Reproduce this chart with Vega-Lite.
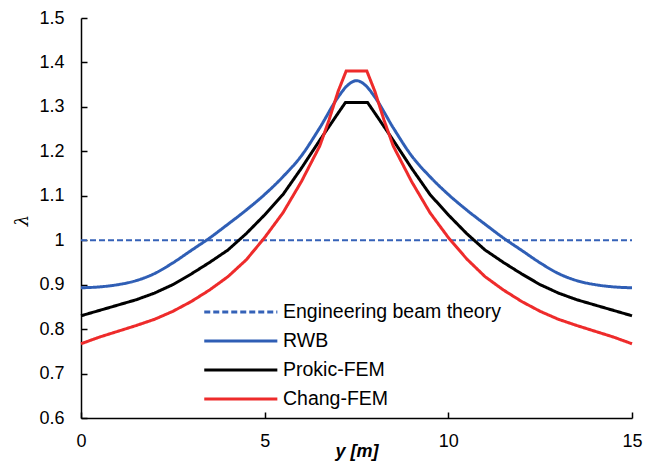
{
  "$schema": "https://vega.github.io/schema/vega-lite/v6.json",
  "width": 551,
  "height": 400,
  "autosize": {"type": "none"},
  "padding": {"left": 81, "top": 18, "right": 24, "bottom": 45},
  "background": "white",
  "config": {
    "view": {"stroke": null},
    "font": "Liberation Sans",
    "axis": {
      "grid": false,
      "labelFlush": false,
      "domainColor": "#000000",
      "domainWidth": 1.5,
      "tickColor": "#000000",
      "tickWidth": 1.5,
      "labelFont": "Liberation Sans",
      "labelFontSize": 18,
      "labelColor": "#000000",
      "titleColor": "#000000"
    }
  },
  "data": {
    "values": [
      {"y": 0, "lambda": 1.0, "series": "Engineering beam theory"},
      {"y": 15, "lambda": 1.0, "series": "Engineering beam theory"},

      {"y": 0, "lambda": 0.893, "series": "RWB"},
      {"y": 0.5, "lambda": 0.895, "series": "RWB"},
      {"y": 1, "lambda": 0.9, "series": "RWB"},
      {"y": 1.5, "lambda": 0.909, "series": "RWB"},
      {"y": 2, "lambda": 0.925, "series": "RWB"},
      {"y": 2.5, "lambda": 0.949, "series": "RWB"},
      {"y": 3, "lambda": 0.977, "series": "RWB"},
      {"y": 3.5, "lambda": 1.005, "series": "RWB"},
      {"y": 4, "lambda": 1.036, "series": "RWB"},
      {"y": 4.5, "lambda": 1.068, "series": "RWB"},
      {"y": 5, "lambda": 1.103, "series": "RWB"},
      {"y": 5.5, "lambda": 1.143, "series": "RWB"},
      {"y": 6, "lambda": 1.19, "series": "RWB"},
      {"y": 6.5, "lambda": 1.253, "series": "RWB"},
      {"y": 7, "lambda": 1.322, "series": "RWB"},
      {"y": 7.25, "lambda": 1.348, "series": "RWB"},
      {"y": 7.5, "lambda": 1.359, "series": "RWB"},
      {"y": 7.75, "lambda": 1.348, "series": "RWB"},
      {"y": 8, "lambda": 1.322, "series": "RWB"},
      {"y": 8.5, "lambda": 1.253, "series": "RWB"},
      {"y": 9, "lambda": 1.19, "series": "RWB"},
      {"y": 9.5, "lambda": 1.143, "series": "RWB"},
      {"y": 10, "lambda": 1.103, "series": "RWB"},
      {"y": 10.5, "lambda": 1.068, "series": "RWB"},
      {"y": 11, "lambda": 1.036, "series": "RWB"},
      {"y": 11.5, "lambda": 1.005, "series": "RWB"},
      {"y": 12, "lambda": 0.977, "series": "RWB"},
      {"y": 12.5, "lambda": 0.949, "series": "RWB"},
      {"y": 13, "lambda": 0.925, "series": "RWB"},
      {"y": 13.5, "lambda": 0.909, "series": "RWB"},
      {"y": 14, "lambda": 0.9, "series": "RWB"},
      {"y": 14.5, "lambda": 0.895, "series": "RWB"},
      {"y": 15, "lambda": 0.893, "series": "RWB"},

      {"y": 0, "lambda": 0.83, "series": "Prokic-FEM"},
      {"y": 0.5, "lambda": 0.842, "series": "Prokic-FEM"},
      {"y": 1, "lambda": 0.854, "series": "Prokic-FEM"},
      {"y": 1.5, "lambda": 0.866, "series": "Prokic-FEM"},
      {"y": 2, "lambda": 0.881, "series": "Prokic-FEM"},
      {"y": 2.5, "lambda": 0.9, "series": "Prokic-FEM"},
      {"y": 3, "lambda": 0.924, "series": "Prokic-FEM"},
      {"y": 3.5, "lambda": 0.95, "series": "Prokic-FEM"},
      {"y": 4, "lambda": 0.978, "series": "Prokic-FEM"},
      {"y": 4.5, "lambda": 1.015, "series": "Prokic-FEM"},
      {"y": 5, "lambda": 1.057, "series": "Prokic-FEM"},
      {"y": 5.5, "lambda": 1.103, "series": "Prokic-FEM"},
      {"y": 6, "lambda": 1.162, "series": "Prokic-FEM"},
      {"y": 6.5, "lambda": 1.225, "series": "Prokic-FEM"},
      {"y": 7, "lambda": 1.286, "series": "Prokic-FEM"},
      {"y": 7.2, "lambda": 1.31, "series": "Prokic-FEM"},
      {"y": 7.8, "lambda": 1.31, "series": "Prokic-FEM"},
      {"y": 8, "lambda": 1.286, "series": "Prokic-FEM"},
      {"y": 8.5, "lambda": 1.225, "series": "Prokic-FEM"},
      {"y": 9, "lambda": 1.162, "series": "Prokic-FEM"},
      {"y": 9.5, "lambda": 1.103, "series": "Prokic-FEM"},
      {"y": 10, "lambda": 1.057, "series": "Prokic-FEM"},
      {"y": 10.5, "lambda": 1.015, "series": "Prokic-FEM"},
      {"y": 11, "lambda": 0.978, "series": "Prokic-FEM"},
      {"y": 11.5, "lambda": 0.95, "series": "Prokic-FEM"},
      {"y": 12, "lambda": 0.924, "series": "Prokic-FEM"},
      {"y": 12.5, "lambda": 0.9, "series": "Prokic-FEM"},
      {"y": 13, "lambda": 0.881, "series": "Prokic-FEM"},
      {"y": 13.5, "lambda": 0.866, "series": "Prokic-FEM"},
      {"y": 14, "lambda": 0.854, "series": "Prokic-FEM"},
      {"y": 14.5, "lambda": 0.842, "series": "Prokic-FEM"},
      {"y": 15, "lambda": 0.83, "series": "Prokic-FEM"},

      {"y": 0, "lambda": 0.767, "series": "Chang-FEM"},
      {"y": 0.5, "lambda": 0.782, "series": "Chang-FEM"},
      {"y": 1, "lambda": 0.795, "series": "Chang-FEM"},
      {"y": 1.5, "lambda": 0.808, "series": "Chang-FEM"},
      {"y": 2, "lambda": 0.822, "series": "Chang-FEM"},
      {"y": 2.5, "lambda": 0.84, "series": "Chang-FEM"},
      {"y": 3, "lambda": 0.862, "series": "Chang-FEM"},
      {"y": 3.5, "lambda": 0.888, "series": "Chang-FEM"},
      {"y": 4, "lambda": 0.918, "series": "Chang-FEM"},
      {"y": 4.5, "lambda": 0.956, "series": "Chang-FEM"},
      {"y": 5, "lambda": 1.006, "series": "Chang-FEM"},
      {"y": 5.5, "lambda": 1.062, "series": "Chang-FEM"},
      {"y": 6, "lambda": 1.132, "series": "Chang-FEM"},
      {"y": 6.5, "lambda": 1.212, "series": "Chang-FEM"},
      {"y": 6.75, "lambda": 1.27, "series": "Chang-FEM"},
      {"y": 7, "lambda": 1.335, "series": "Chang-FEM"},
      {"y": 7.22, "lambda": 1.381, "series": "Chang-FEM"},
      {"y": 7.78, "lambda": 1.381, "series": "Chang-FEM"},
      {"y": 8, "lambda": 1.335, "series": "Chang-FEM"},
      {"y": 8.25, "lambda": 1.27, "series": "Chang-FEM"},
      {"y": 8.5, "lambda": 1.212, "series": "Chang-FEM"},
      {"y": 9, "lambda": 1.132, "series": "Chang-FEM"},
      {"y": 9.5, "lambda": 1.062, "series": "Chang-FEM"},
      {"y": 10, "lambda": 1.006, "series": "Chang-FEM"},
      {"y": 10.5, "lambda": 0.958, "series": "Chang-FEM"},
      {"y": 11, "lambda": 0.918, "series": "Chang-FEM"},
      {"y": 11.5, "lambda": 0.888, "series": "Chang-FEM"},
      {"y": 12, "lambda": 0.862, "series": "Chang-FEM"},
      {"y": 12.5, "lambda": 0.84, "series": "Chang-FEM"},
      {"y": 13, "lambda": 0.822, "series": "Chang-FEM"},
      {"y": 13.5, "lambda": 0.808, "series": "Chang-FEM"},
      {"y": 14, "lambda": 0.795, "series": "Chang-FEM"},
      {"y": 14.5, "lambda": 0.782, "series": "Chang-FEM"},
      {"y": 15, "lambda": 0.767, "series": "Chang-FEM"}
    ]
  },
  "encoding": {
    "x": {
      "field": "y",
      "type": "quantitative",
      "scale": {"domain": [0, 15], "nice": false, "zero": false},
      "axis": {
        "values": [0, 5, 10, 15],
        "format": "d",
        "tickSize": -6,
        "labelPadding": 20,
        "title": "y [m]",
        "titleFont": "Liberation Sans",
        "titleFontSize": 18,
        "titleFontWeight": "bold",
        "titleFontStyle": "italic",
        "titleY": 33,
        "titleBaseline": "middle"
      }
    },
    "y": {
      "field": "lambda",
      "type": "quantitative",
      "scale": {"domain": [0.6, 1.5], "nice": false, "zero": false},
      "axis": {
        "values": [0.6, 0.7, 0.8, 0.9, 1.0, 1.1, 1.2, 1.3, 1.4, 1.5],
        "format": "~g",
        "tickSize": -6,
        "labelPadding": 23,
        "title": "λ",
        "titleFont": "DejaVu Serif",
        "titleFontSize": 18,
        "titleFontWeight": "normal",
        "titleFontStyle": "italic",
        "titleX": -59,
        "titleY": 202,
        "titleAngle": -90,
        "titleBaseline": "middle"
      }
    },
    "color": {
      "field": "series",
      "type": "nominal",
      "sort": ["Engineering beam theory", "RWB", "Prokic-FEM", "Chang-FEM"],
      "scale": {
        "domain": ["Engineering beam theory", "RWB", "Prokic-FEM", "Chang-FEM"],
        "range": ["#3562B8", "#2F5EB5", "#000000", "#EE2B2B"]
      },
      "legend": {
        "title": null,
        "orient": "none",
        "legendX": 177,
        "legendY": 284,
        "symbolType": "M-7.5,0H1.1",
        "symbolSize": 289,
        "symbolStrokeWidth": 3,
        "labelFont": "Liberation Sans",
        "labelFontSize": 19.5,
        "labelColor": "#000000",
        "labelOffset": 5,
        "labelLimit": 400,
        "rowPadding": 9
      }
    },
    "strokeDash": {
      "field": "series",
      "type": "nominal",
      "sort": ["Engineering beam theory", "RWB", "Prokic-FEM", "Chang-FEM"],
      "scale": {
        "domain": ["Engineering beam theory", "RWB", "Prokic-FEM", "Chang-FEM"],
        "range": [[6, 3], [1, 0], [1, 0], [1, 0]]
      }
    },
    "order": {"field": "y", "type": "quantitative"}
  },
  "layer": [
    {
      "transform": [{"filter": "datum.series === 'Engineering beam theory'"}],
      "mark": {"type": "line", "strokeWidth": 2}
    },
    {
      "transform": [{"filter": "datum.series === 'RWB'"}],
      "mark": {"type": "line", "strokeWidth": 3, "interpolate": "monotone"}
    },
    {
      "transform": [{"filter": "datum.series === 'Prokic-FEM'"}],
      "mark": {"type": "line", "strokeWidth": 3, "strokeJoin": "miter"}
    },
    {
      "transform": [{"filter": "datum.series === 'Chang-FEM'"}],
      "mark": {"type": "line", "strokeWidth": 3, "strokeJoin": "miter"}
    }
  ]
}
